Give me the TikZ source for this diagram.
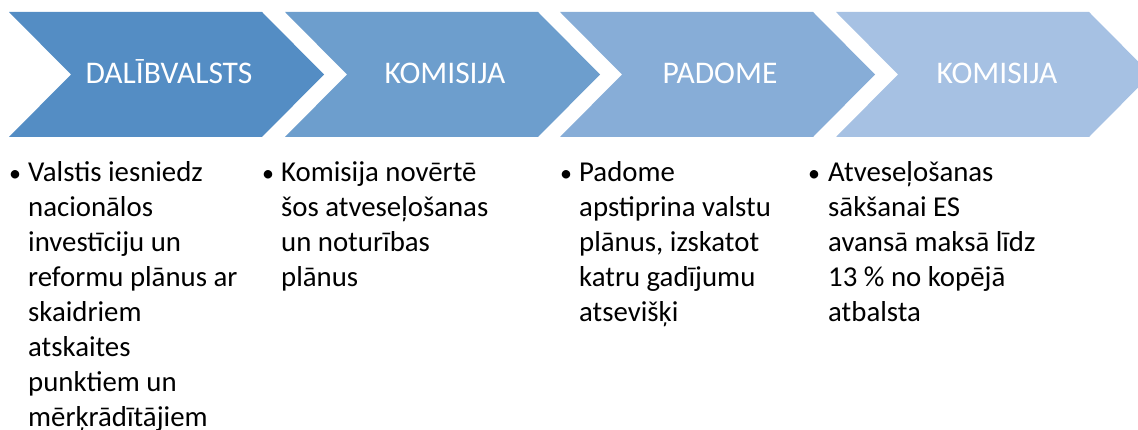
\documentclass[tikz,border=0pt]{standalone}
\usepackage{fontspec}
\setmainfont{Carlito}
\definecolor{cA}{RGB}{84,141,196}
\definecolor{cB}{RGB}{109,158,205}
\definecolor{cC}{RGB}{135,173,215}
\definecolor{cD}{RGB}{166,193,227}
\tikzset{
  head/.style={anchor=base, text=white, inner sep=0pt, font=\fontsize{31.5}{36}\selectfont},
  bul/.style={anchor=base west, inner sep=0pt, font=\fontsize{24}{30}\selectfont},
  body/.style={anchor=base west, inner sep=0pt},
}
\newcommand{\chev}[2]{% #1 = left x, #2 = colour
  \fill[#2] (#1,12) -- (#1+253,12) -- (#1+315,74.5) -- (#1+253,137) -- (#1,137) -- (#1+62,74.5) -- cycle;}
\newcommand{\colbox}[1]{\parbox[t]{280pt}{\raggedright\fontsize{28.8}{34.9}\selectfont #1}}
\begin{document}
\begin{tikzpicture}[x=1pt,y=-1pt]
\useasboundingbox (0,0) rectangle (1138,430);
\clip (0,0) rectangle (1138,430);
\chev{9}{cA}
\chev{285}{cB}
\chev{560}{cC}
\chev{836}{cD}
\node[head] (h1) at (169,84) {DALĪBVALSTS};
\node[head] (h2) at (445,84) {KOMISIJA};
\node[head] (h3) at (720,84) {PADOME};
\node[head] (h4) at (997,84) {KOMISIJA};
\node[bul] (b1) at (9,182) {•};
\node[bul] (b2) at (262,182) {•};
\node[bul] (b3) at (560,182) {•};
\node[bul] (b4) at (808,182) {•};
\node[body] (t1) at (28,182) {\colbox{Valstis iesniedz\\nacionālos\\investīciju un\\reformu plānus ar\\skaidriem\\atskaites\\punktiem un\\mērķrādītājiem}};
\node[body] (t2) at (281,182) {\colbox{Komisija novērtē\\šos atveseļošanas\\un noturības\\plānus}};
\node[body] (t3) at (579,182) {\colbox{Padome\\apstiprina valstu\\plānus, izskatot\\katru gadījumu\\atsevišķi}};
\node[body] (t4) at (828,182) {\colbox{Atveseļošanas\\sākšanai ES\\avansā maksā līdz\\13 \% no kopējā\\atbalsta}};
\end{tikzpicture}
\end{document}
